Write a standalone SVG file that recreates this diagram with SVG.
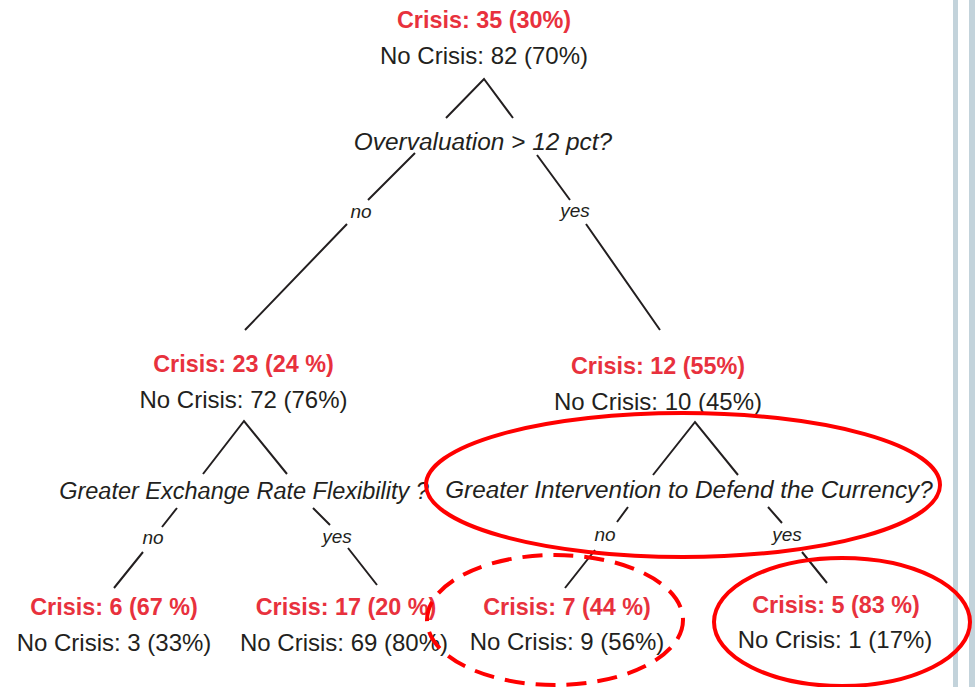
<svg xmlns="http://www.w3.org/2000/svg" width="975" height="687" viewBox="0 0 975 687">
<style>
.red{font-family:"Liberation Sans",Arial,sans-serif;font-size:23.4px;font-weight:bold;fill:#e8313d;text-anchor:middle}
.blk{font-family:"Liberation Sans",Arial,sans-serif;font-size:24px;fill:#231f20;text-anchor:middle}
.q{font-family:"Liberation Sans",Arial,sans-serif;font-size:23.5px;font-style:italic;fill:#231f20;text-anchor:middle}
.lbl{font-family:"Liberation Sans",Arial,sans-serif;font-size:19px;font-style:italic;fill:#231f20;text-anchor:middle}
.ln{stroke:#231f20;stroke-width:2;fill:none}
.hl{fill:none;stroke:#f00;stroke-width:4}
.bar{fill:#c3d3db}
</style>
<rect width="975" height="687" fill="#fff"/>
<rect class="bar" x="953" y="0" width="5" height="687"/>
<rect class="bar" x="969" y="0" width="6" height="687"/>

<g id="connectors">
<path class="ln" d="M446,118 L484,79 L513,118"/>
<path class="ln" d="M415,153 L368,200 M347,224 L245,330"/>
<text class="lbl" x="361" y="218">no</text>
<path class="ln" d="M537,155 L570,200 M586,224 L660,330"/>
<text class="lbl" x="575" y="217">yes</text>
<path class="ln" d="M203,474 L244,421 L287,474"/>
<path class="ln" d="M177,508 L162,527 M143,552 L114,588"/>
<text class="lbl" x="153" y="544">no</text>
<path class="ln" d="M313,508 L330,525 M348,548 L377,585"/>
<text class="lbl" x="337" y="543">yes</text>
<path class="ln" d="M653,475 L695,422 L738,475"/>
<path class="ln" d="M628,507 L617,522 M595,550 L565,588"/>
<text class="lbl" x="605" y="541">no</text>
<path class="ln" d="M768,507 L782,523 M802,552 L827,583"/>
<text class="lbl" x="787" y="541">yes</text>
</g>

<g id="root">
<text class="red" x="484" y="28">Crisis: 35 (30%)</text>
<text class="blk" x="484" y="64">No Crisis: 82 (70%)</text>
<text class="q" x="483" y="150" style="font-size:24.4px">Overvaluation &gt; 12 pct?</text>
</g>

<g id="node-left">
<text class="red" x="243.5" y="372">Crisis: 23 (24 %)</text>
<text class="blk" x="243.5" y="408">No Crisis: 72 (76%)</text>
<text class="q" x="244" y="499">Greater Exchange Rate Flexibility ?</text>
</g>

<g id="node-right">
<text class="red" x="658" y="374">Crisis: 12 (55%)</text>
<text class="blk" x="658" y="410">No Crisis: 10 (45%)</text>
<text class="q" x="689" y="498" style="font-size:24.3px">Greater Intervention to Defend the Currency?</text>
</g>

<g id="leaf-1">
<text class="red" x="114" y="615">Crisis: 6 (67 %)</text>
<text class="blk" x="114" y="651">No Crisis: 3 (33%)</text>
</g>
<g id="leaf-2">
<text class="red" x="346" y="615">Crisis: 17 (20 %)</text>
<text class="blk" x="344" y="651">No Crisis: 69 (80%)</text>
</g>
<g id="leaf-3">
<text class="red" x="567" y="615">Crisis: 7 (44 %)</text>
<text class="blk" x="567" y="650">No Crisis: 9 (56%)</text>
</g>
<g id="leaf-4">
<text class="red" x="836" y="613">Crisis: 5 (83 %)</text>
<text class="blk" x="835" y="648">No Crisis: 1 (17%)</text>
</g>

<g id="highlights">
<ellipse class="hl" cx="683" cy="485" rx="257" ry="72"/>
<ellipse class="hl" cx="555" cy="620" rx="128" ry="65" stroke-dasharray="20 11"/>
<ellipse class="hl" cx="842" cy="622" rx="128" ry="64"/>
</g>
</svg>
